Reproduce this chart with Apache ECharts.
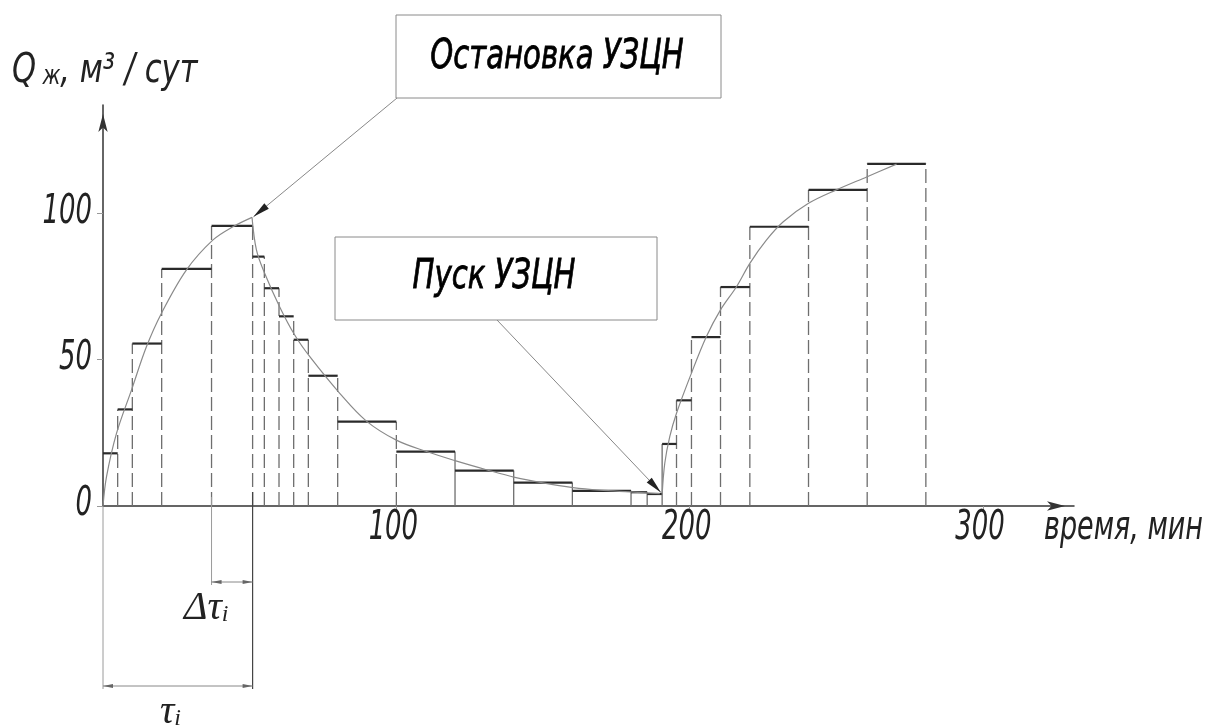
<!DOCTYPE html>
<html><head><meta charset="utf-8">
<script src="https://cdn.jsdelivr.net/npm/echarts@6/dist/echarts.min.js"></script>
<style>html,body{margin:0;padding:0;background:#fff}#c{width:1205px;height:727px}</style>
</head><body><div id="c"></div>
<script>
// ---- data ----
const riseTimes = [0, 5, 10, 20, 37, 51];
const riseFlow = [18, 33, 55.5, 81, 95.7];
const fallTimes = [51, 55, 60, 65, 70, 80, 100, 120, 140, 160, 180, 185.5, 190.6];
const fallFlow = [85.2, 74.4, 64.8, 56.8, 44.5, 28.8, 18.6, 12.1, 8.0, 5.2, 4.7, 4.1];
const restartTimes = [190.6, 195.5, 200.6, 210.5, 220.5, 240.5, 260.5, 280.5];
const restartFlow = [21.2, 36.1, 57.7, 74.8, 95.4, 108, 116.9];

const curveRise = [[0,0],[1.2,10],[4.6,24.8],[9.7,39.6],[14.8,54.4],[19.9,65.8],[28.4,80.6],[37.5,90.9],[44.3,95.4],[50.8,98.6]];
const curveFall = [[50.8,98.6],[52.3,87.5],[55.1,79.5],[60.2,68.1],[65.3,58.5],[70.5,51],[80.7,38.5],[89.8,29],[100,22.5],[110.3,18.6],[120,15.5],[130.7,12.4],[140.4,9.8],[150,7.9],[160.2,6.3],[169.3,5.4],[179.6,4.8],[189.8,4.2]];
const curveRestart = [[190.6,3.8],[191.5,14.6],[193.2,23.7],[195.5,31.7],[200.6,45.4],[205.7,57.9],[210.5,67.0],[216,75],[220.5,82.9],[226.2,90.9],[231.9,97.1],[240.5,103.4],[250,108],[260.5,112.5],[270.5,116.8]];

const xTickValues = [100, 200, 300];
const yTickValues = [0, 50, 100];
const stopPoint = [51.3, 98.8];
const startPoint = [190.2, 4.6];
const tauStart = 0, tauPrev = 37, tauEnd = 51;

// ---- derived ----
function toSteps(times, flows){ return flows.map((q,i)=>[times[i], times[i+1], q]); }
const stepData = [].concat(toSteps(riseTimes,riseFlow), toSteps(fallTimes,fallFlow), toSteps(restartTimes,restartFlow));
const bmap = new Map();
[[riseTimes,riseFlow],[fallTimes,fallFlow],[restartTimes,restartFlow]].forEach(([t,f])=>{
  t.forEach((tt,i)=>{
    const h = Math.max(i>0?f[i-1]:0, i<f.length?f[i]:0);
    bmap.set(tt, Math.max(bmap.get(tt)||0, h));
  });
});
const vertData = [...bmap.entries()].filter(e=>e[0]>0).map(e=>[e[0], e[1]]);

const FONT = "'Liberation Sans Narrow','DejaVu Sans Condensed',sans-serif";
const chart = echarts.init(document.getElementById('c'), null, {renderer:'canvas'});

const curveStyle = {color:'#8a8a8a', width:1.2};
chart.setOption({
  backgroundColor:'#fff',
  animation:false,
  grid:{left:103, right:131, top:105, bottom:221, containLabel:false, outerBoundsMode:'none'},
  xAxis:{type:'value', min:0, max:331, interval:100,
    splitLine:{show:false},
    axisLine:{lineStyle:{color:'#333', width:1.5}, symbol:['none','arrow'], symbolSize:[7,18], symbolOffset:[0,-9]},
    axisTick:{show:true, length:5, lineStyle:{color:'#999'}, customValues:xTickValues},
    axisLabel:{show:false}
  },
  yAxis:{type:'value', min:0, max:137, interval:50,
    splitLine:{show:false},
    axisLine:{lineStyle:{color:'#333', width:1.5}, symbol:['none','arrow'], symbolSize:[7,18], symbolOffset:[0,-9]},
    axisTick:{show:true, length:6, lineStyle:{color:'#999'}, customValues:yTickValues},
    axisLabel:{show:false}
  },
  series:[
    {type:'custom', data:vertData, z:2, silent:true,
      renderItem:function(params, api){
        const t = api.value(0), h = api.value(1);
        const b = api.coord([t,0]), p = api.coord([t,h]);
        return {type:'line', shape:{x1:b[0],y1:b[1],x2:p[0],y2:p[1]},
          style:{stroke:'#6e6e6e', lineWidth:1.3, lineDash: h>25?[14,5]:null}};
      }},
    {type:'custom', data:stepData, z:3, silent:true,
      renderItem:function(params, api){
        const p0 = api.coord([api.value(0), api.value(2)]);
        const p1 = api.coord([api.value(1), api.value(2)]);
        return {type:'line', shape:{x1:p0[0],y1:p0[1],x2:p1[0],y2:p1[1]},
          style:{stroke:'#2a2a2a', lineWidth:2.2}};
      }},
    {type:'line', data:curveRise, smooth:0.35, showSymbol:false, lineStyle:curveStyle, z:4, silent:true},
    {type:'line', data:curveFall, smooth:0.35, showSymbol:false, lineStyle:curveStyle, z:4, silent:true},
    {type:'line', data:curveRestart, smooth:0.35, showSymbol:false, lineStyle:curveStyle, z:4, silent:true}
  ]
});

function px(v){ return chart.convertToPixel({gridIndex:0}, v); }
function arrowHead(tx, ty, fx, fy, len, hw, color){
  const dx = tx-fx, dy = ty-fy, d = Math.hypot(dx,dy), ux = dx/d, uy = dy/d;
  const bx = tx-ux*len, by = ty-uy*len;
  return {type:'polygon', shape:{points:[[tx,ty],[bx-uy*hw, by+ux*hw],[bx+uy*hw, by-ux*hw]]}, style:{fill:color}, z:10};
}
function line(x1,y1,x2,y2,color,w){ return {type:'line', shape:{x1,y1,x2,y2}, style:{stroke:color, lineWidth:w}, z:10}; }
function txt(x, y, text, size, align, sx, color, stroke){
  const st = {text:text, font:'italic '+size+'px '+FONT, fill:color||'#222', align:align, verticalAlign:'middle'};
  if (stroke) { st.stroke = color; st.lineWidth = stroke; }
  return {type:'text', x:x, y:y, scaleX:sx, z:11, style:st};
}

const axisY = px([0,0])[1];
const axisX = px([0,0])[0];
const xs = px([tauStart,0])[0], xp = px([tauPrev,0])[0], xe = px([tauEnd,0])[0];
const sp = px(stopPoint), st = px(startPoint);
const g = [];
// tick labels
xTickValues.forEach(v=>{ const p = px([v,0]); g.push(txt(p[0]-3, axisY+23, String(v), 40, 'center', 0.72)); });
yTickValues.forEach(v=>{ const p = px([0,v]); g.push(txt(axisX-11, p[1]-1, String(v), 40, 'right', 0.72)); });
// annotation boxes
g.push({type:'rect', shape:{x:396, y:15, width:325, height:83}, style:{fill:'#fff', stroke:'#8a8a8a', lineWidth:1}, z:9});
g.push(txt(557, 57, 'Остановка УЗЦН', 41, 'center', 0.79, '#000', 0.8));
g.push({type:'rect', shape:{x:335, y:237, width:322, height:83}, style:{fill:'#fff', stroke:'#8a8a8a', lineWidth:1}, z:9});
g.push(txt(494, 277, 'Пуск УЗЦН', 41, 'center', 0.79, '#000', 0.8));
// leaders
g.push(line(397,98, sp[0],sp[1], '#888', 1));
g.push(arrowHead(sp[0],sp[1],397,98,17,3.5,'#222'));
g.push(line(497,320, st[0],st[1], '#888', 1));
g.push(arrowHead(st[0],st[1],497,320,17,3.5,'#222'));
// dimension lines
g.push(line(xs,axisY, xs,689, '#9a9a9a',1));
g.push(line(xp,497, xp,585, '#9a9a9a',1));
g.push(line(xe,492, xe,689, '#444',1.2));
g.push(line(xp,582, xe,582, '#888',1));
g.push(arrowHead(xp,582,xe,582,10,2,'#666'));
g.push(arrowHead(xe,582,xp,582,10,2,'#666'));
g.push(line(xs,686, xe,686, '#888',1));
g.push(arrowHead(xs,686,xe,686,10,2,'#666'));
g.push(arrowHead(xe,686,xs,686,10,2,'#666'));
// texts
g.push({type:'text', x:184, y:608, style:{
  text:'{a|Δτ}{s|i}', verticalAlign:'middle', align:'left',
  rich:{a:{font:'italic 40px "Liberation Serif", serif', fill:'#222'}, s:{font:'italic 24px "Liberation Serif", serif', fill:'#222', padding:[14,0,0,0]}}}, z:11});
g.push({type:'text', x:160, y:712, style:{
  text:'{a|τ}{s|i}', verticalAlign:'middle', align:'left',
  rich:{a:{font:'italic 40px "Liberation Serif", serif', fill:'#222'}, s:{font:'italic 24px "Liberation Serif", serif', fill:'#222', padding:[14,0,0,0]}}}, z:11});
g.push({type:'text', x:12, y:72, scaleX:0.85, style:{
  text:'{a|Q}{s| ж}{a|, м³ / сут}', verticalAlign:'middle', align:'left',
  rich:{a:{font:'italic 40px '+FONT, fill:'#222'}, s:{font:'italic 26px '+FONT, fill:'#222', padding:[10,0,0,0]}}}, z:11});
g.push(txt(1044, 529, 'время, мин', 40, 'left', 0.75));

chart.setOption({graphic:g});
</script></body></html>
